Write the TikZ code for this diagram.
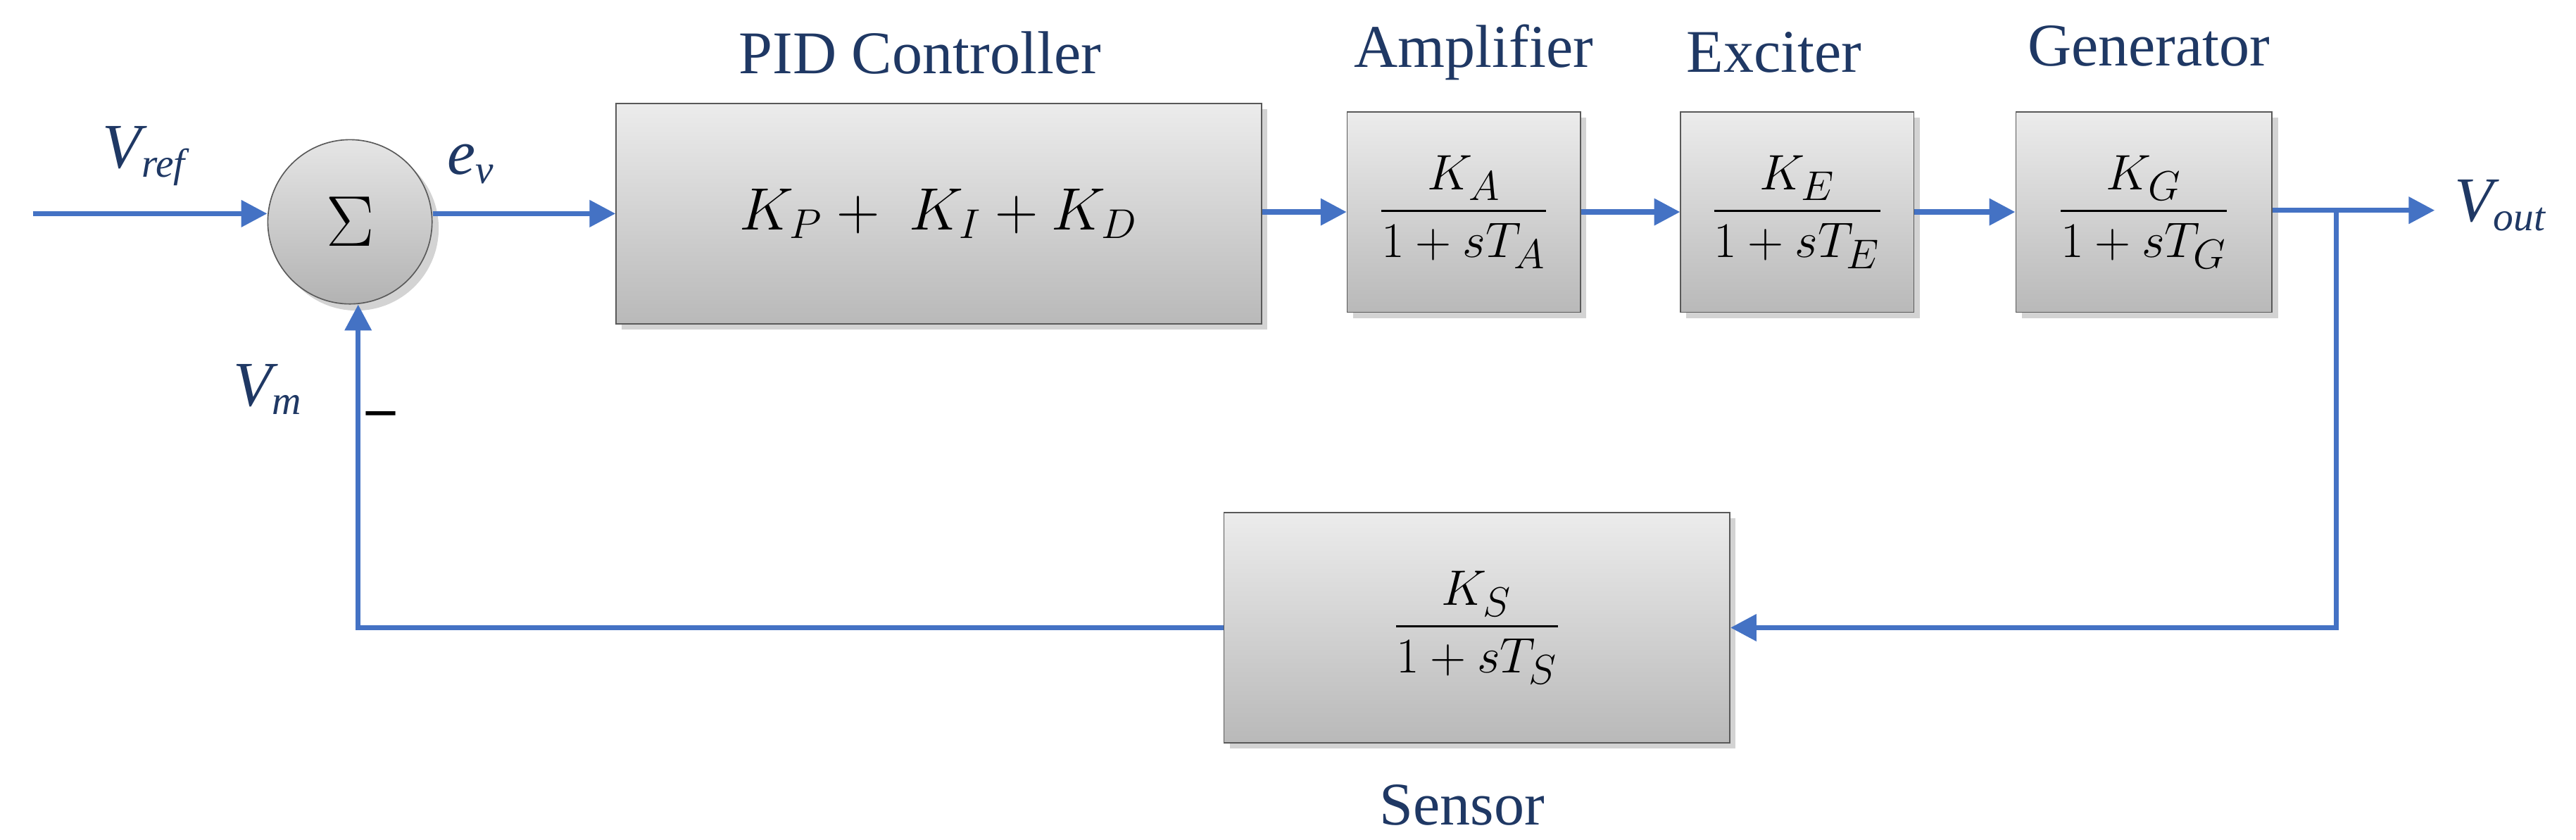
\documentclass[tikz,border=0pt]{standalone}
\usepackage{amsmath}
\usepackage{fontspec}
\setmainfont{Liberation Serif}
\usetikzlibrary{arrows.meta,shadows}
\definecolor{ln}{RGB}{68,114,196}
\definecolor{tx}{RGB}{31,56,100}
\begin{document}
\begin{tikzpicture}[x=0.02cm,y=-0.02cm,
 blk/.style={draw=gray!70!black,top color=gray!15,bottom color=gray!55,drop shadow={opacity=0.35,shadow xshift=2pt,shadow yshift=-2pt},inner sep=0pt},
 con/.style={ln,line width=1.8pt,-{Triangle[length=9pt,width=9pt]}},
 wire/.style={ln,line width=1.8pt},
 ttl/.style={tx,font=\fontsize{21}{24}\selectfont},
 lab/.style={tx,font=\fontsize{22}{24}\selectfont\itshape},
 fr/.style={font=\fontsize{19}{22}\selectfont}]
\useasboundingbox (0,0) rectangle (1568,511);
\node[circle,minimum size=2cm,inner sep=0pt,draw=gray!70!black,top color=gray!20,bottom color=gray!60,drop shadow={opacity=0.35}] (sum) at (213,135) {\fontsize{24}{26}\selectfont$\Sigma$};
\node[blk,minimum width=7.86cm,minimum height=2.68cm] (pid) at (571.5,130) {\fontsize{22}{24}\selectfont$K_P +\;K_I + K_D$};
\node[blk,minimum width=2.84cm,minimum height=2.44cm,fr] (amp) at (891,129) {$\dfrac{K_A}{1+sT_A}$};
\node[blk,minimum width=2.84cm,minimum height=2.44cm,fr] (exc) at (1094,129) {$\dfrac{K_E}{1+sT_E}$};
\node[blk,minimum width=3.12cm,minimum height=2.44cm,fr] (gen) at (1305,129) {$\dfrac{K_G}{1+sT_G}$};
\node[blk,minimum width=6.16cm,minimum height=2.8cm,fr] (sen) at (899,382) {$\dfrac{K_S}{1+sT_S}$};
\node[ttl] (t1) at (560,32) {PID Controller};
\node[ttl] (t2) at (897,32) {Amplifier};
\node[ttl] (t3) at (1080,32) {Exciter};
\node[ttl] (t4) at (1308,28) {Generator};
\node[ttl] (t5) at (890,490) {Sensor};
\coordinate (in) at (20,130);
\coordinate (out) at (1482,128);
\coordinate (br) at (1422,128);
\coordinate (br2) at (1422,382);
\coordinate (cl) at (218,382);
\node[lab] (vref) at (88,95) {V\textsubscript{\fontsize{14}{14}\selectfont ref}};
\node[lab] (ev) at (287,100) {e\textsubscript{\fontsize{14}{14}\selectfont v}};
\node[lab] (vm) at (163,237) {V\textsubscript{\fontsize{14}{14}\selectfont m}};
\node[font=\fontsize{20}{20}\selectfont\bfseries] (minus) at (232,255) {--};
\node[lab,anchor=west] (vout) at (1488,125) {V\textsubscript{\fontsize{14}{14}\selectfont out}};
\draw[con] (in) -- (sum.west|-in);
\draw[con] (sum.east|-pid) -- (pid.west);
\draw[con] (pid.east|-amp) -- (amp.west);
\draw[con] (amp) -- (exc);
\draw[con] (exc) -- (gen);
\draw[con] (gen.east|-out) -- (out);
\draw[con] (br) -- (br2) -- (sen.east);
\draw[con] (sen.west) -- (cl) -- (cl|-sum.south);
\end{tikzpicture}
\end{document}
